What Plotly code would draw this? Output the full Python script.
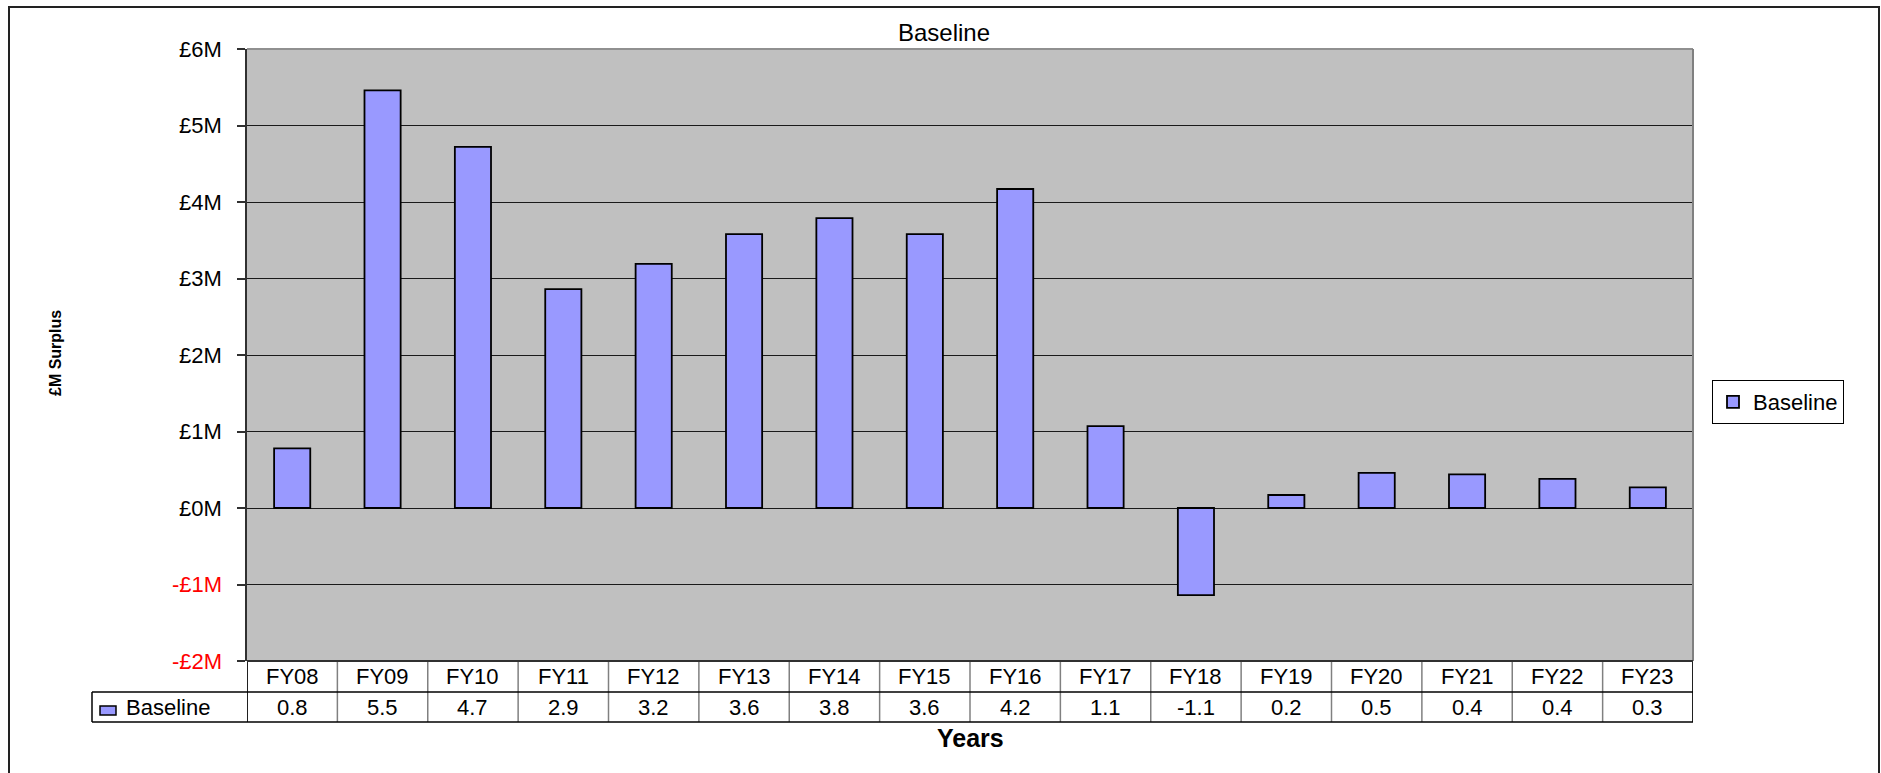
import plotly.graph_objects as go

# Fiscal years and baseline surplus (£ millions)
years = ["FY08", "FY09", "FY10", "FY11", "FY12", "FY13", "FY14", "FY15",
         "FY16", "FY17", "FY18", "FY19", "FY20", "FY21", "FY22", "FY23"]
baseline = [0.78, 5.46, 4.72, 2.86, 3.19, 3.58, 3.79, 3.58,
            4.17, 1.07, -1.14, 0.17, 0.46, 0.44, 0.38, 0.27]

y_ticks = [-2, -1, 0, 1, 2, 3, 4, 5, 6]
y_tick_text = ["-£2M", "-£1M", "£0M", "£1M", "£2M", "£3M", "£4M", "£5M", "£6M"]
y_tick_colors = ["#FF0000", "#FF0000", "black", "black", "black", "black",
                 "black", "black", "black"]

FONT = "Liberation Sans, Arial, sans-serif"
FS = 22
BAR_FILL = "#9999FF"

W, H = 1881, 773
L, R, T, B = 247, 188, 49, 112
PW, PH = W - L - R, H - T - B


def px_x(p):
    return (p - L) / PW


def px_y(p):
    return (H - B - p) / PH


fig = go.Figure()
fig.add_trace(go.Bar(
    x=years, y=baseline, name="Baseline",
    marker=dict(color=BAR_FILL, line=dict(color="black", width=1.8)),
))

shapes = []
annotations = []

# outer chart frame
shapes.append(dict(type="rect", xref="paper", yref="paper",
                   x0=px_x(9), x1=px_x(1879), y0=px_y(790), y1=px_y(7),
                   line=dict(color="#222222", width=2), layer="below"))
# plot-area border (top and right)
shapes.append(dict(type="line", xref="paper", yref="paper",
                   x0=0, x1=1, y0=1, y1=1, line=dict(color="#909090", width=2)))
shapes.append(dict(type="line", xref="paper", yref="paper",
                   x0=1, x1=1, y0=0, y1=1, line=dict(color="#808080", width=2)))

# data table below the axis
ROW1, ROW2 = 31, 61   # pixel offsets below the plot bottom
n = len(years)
for i in range(1, n):
    shapes.append(dict(type="line", xref="x", yref="paper", ysizemode="pixel",
                       yanchor=0, x0=i - 0.5, x1=i - 0.5, y0=0, y1=-ROW2,
                       line=dict(color="#808080", width=1.5)))
for xv in (-0.5, n - 0.5):
    shapes.append(dict(type="line", xref="x", yref="paper", ysizemode="pixel",
                       yanchor=0, x0=xv, x1=xv, y0=0, y1=-ROW2,
                       line=dict(color="#202020", width=2)))
# horizontal table rules spanning legend cell and value cells
for yy in (ROW1, ROW2):
    shapes.append(dict(type="line", xref="paper", yref="paper", ysizemode="pixel",
                       yanchor=0, x0=px_x(92), x1=1, y0=-yy, y1=-yy,
                       line=dict(color="black", width=1.5)))
shapes.append(dict(type="line", xref="paper", yref="paper", ysizemode="pixel",
                   yanchor=0, x0=0, x1=1, y0=0, y1=0,
                   line=dict(color="#303030", width=2)))
shapes.append(dict(type="line", xref="paper", yref="paper", ysizemode="pixel",
                   yanchor=0, x0=px_x(92), x1=px_x(92), y0=-ROW1, y1=-ROW2,
                   line=dict(color="black", width=1.5)))
# legend key inside the table
shapes.append(dict(type="rect", xref="paper", yref="paper", ysizemode="pixel",
                   xsizemode="pixel", xanchor=px_x(100), yanchor=0,
                   x0=0, x1=16, y0=-45, y1=-54,
                   fillcolor=BAR_FILL, line=dict(color="black", width=1.5)))

for yr, v in zip(years, baseline):
    annotations.append(dict(x=yr, xref="x", y=0, yref="paper", yshift=-ROW1 / 2,
                            text=yr, showarrow=False, yanchor="middle",
                            font=dict(family=FONT, size=FS, color="black")))
    annotations.append(dict(x=yr, xref="x", y=0, yref="paper",
                            yshift=-(ROW1 + ROW2) / 2,
                            text=f"{v:.1f}", showarrow=False, yanchor="middle",
                            font=dict(family=FONT, size=FS, color="black")))
annotations.append(dict(x=px_x(124), xref="paper", y=0, yref="paper",
                        yshift=-(ROW1 + ROW2) / 2, xanchor="left", yanchor="middle",
                        text="Baseline", showarrow=False,
                        font=dict(family=FONT, size=FS, color="black")))

# y tick labels, negatives in red
for tv, tt, tc in zip(y_ticks, y_tick_text, y_tick_colors):
    annotations.append(dict(x=px_x(224), xref="paper", y=tv, yref="y",
                            text=tt, showarrow=False, xanchor="right",
                            yanchor="middle",
                            font=dict(family=FONT, size=FS, color=tc)))

# axis titles
annotations.append(dict(x=px_x(970), xref="paper", y=0, yref="paper", yshift=-77,
                        text="<b>Years</b>", showarrow=False, yanchor="middle",
                        font=dict(family=FONT, size=25, color="black")))
annotations.append(dict(x=px_x(55), xref="paper", y=px_y(353), yref="paper",
                        text="<b>£M Surplus</b>", textangle=-90, showarrow=False,
                        xanchor="center", yanchor="middle",
                        font=dict(family=FONT, size=16, color="black")))

fig.update_layout(
    width=W, height=H,
    margin=dict(l=L, r=R, t=T, b=B, pad=0),
    paper_bgcolor="white", plot_bgcolor="#C0C0C0",
    font=dict(family=FONT, size=FS, color="black"),
    title=dict(text="Baseline", x=944 / W, xref="container", xanchor="center",
               y=1 - 33 / H, yref="container", yanchor="middle",
               font=dict(family=FONT, size=24, color="black")),
    bargap=0.6,
    showlegend=True,
    legend=dict(x=px_x(1712), y=px_y(380), xanchor="left", yanchor="top",
                bordercolor="black", borderwidth=1, bgcolor="white",
                font=dict(family=FONT, size=FS, color="black"),
                tracegroupgap=0, itemwidth=30),
    shapes=shapes,
    annotations=annotations,
)
fig.update_xaxes(showticklabels=False, showgrid=False, zeroline=False,
                 ticks="", showline=False, range=[-0.5, n - 0.5])
fig.update_yaxes(range=[-2, 6], tickvals=y_ticks, showticklabels=False,
                 showgrid=True, gridcolor="#1a1a1a", gridwidth=1,
                 zeroline=True, zerolinecolor="#1a1a1a", zerolinewidth=1,
                 showline=True, linecolor="#303030", linewidth=2,
                 ticks="outside", ticklen=8, tickcolor="#303030", tickwidth=1.5)

fig.write_html("out.html")
